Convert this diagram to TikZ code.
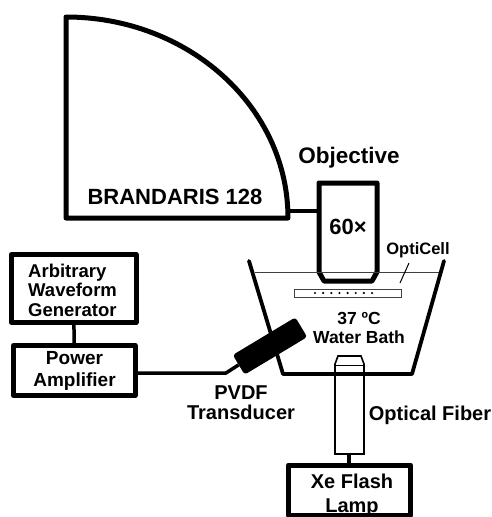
\documentclass[tikz,border=0pt]{standalone}
\usepackage{fontspec}
\setmainfont{Liberation Sans}
\usetikzlibrary{calc,positioning}
\tikzset{
  wire/.style={line width=3.5pt},
  thickline/.style={line width=5pt, line join=round},
  thinline/.style={line width=0.9pt, draw=black!75},
  instrbox/.style={draw, thickline, fill=white, inner sep=0pt},
  lab/.style={font=\bfseries\fontsize{19}{22}\selectfont, inner sep=0pt, align=center},
  biglab/.style={font=\bfseries\fontsize{22}{24}\selectfont, inner sep=0pt, align=center},
  bead/.style={circle, fill=black, inner sep=0pt, minimum size=2.4pt}
}
\begin{document}
\begin{tikzpicture}[x=1pt,y=-1pt]
  \useasboundingbox (0,0) rectangle (492,517);
  % camera
  \draw[thickline] (66,17) -- (66,218) -- (288,218) arc[start angle=0, end angle=-90, x radius=222, y radius=201] -- cycle;
  \node[biglab] (camera) at (175,197) {BRANDARIS 128};
  % objective
  \draw[thickline, fill=white] (319,183) -- (377,183) -- (377,272) -- (372,281) -- (324,281) -- (319,272) -- cycle;
  \coordinate (objleft) at (319,211);
  \coordinate (camright) at (288,211);
  \draw[wire] (camright) -- (objleft);
  \node[biglab, font=\bfseries\fontsize{22.5}{24}\selectfont] (objlabel) at (349,158) {Objective};
  \node[biglab] (objmag) at (348,227) {60×};
  % fiber
  \draw[line width=1.6pt, fill=white] (335,454) -- (335,364) -- (338,356) -- (361,356) -- (364,364) -- (364,454) -- cycle;
  \draw[line width=1pt] (335,365) -- (364,365);
  % bath
  \draw[thinline] (255,272) -- (440,272);
  \draw[line width=3.8pt, line join=round, line cap=round] (249,261) -- (283,374) -- (412,374) -- (444,261);
  \node[draw, thinline, minimum width=107pt, minimum height=8pt, inner sep=0pt] (cell) at (347.5,293) {};
  \foreach \i in {0,...,7}
    \node[bead] (bead\i) at (315+8.15*\i,293) {};
  \node[font=\bfseries\fontsize{16.5}{17}\selectfont, inner sep=0pt] (celllabel) at (418,250) {OptiCell};
  \coordinate (cellend) at (400,283);
  \coordinate (cellstart) at (409,263);
  \draw[line width=1pt] (cellstart) -- (cellend);
  \node[font=\bfseries\fontsize{17.5}{19}\selectfont, inner sep=0pt, align=center] (bathlabel) at (359,327.5) {37 ºC\\Water Bath};
  % signal chain
  \node[instrbox, minimum width=124.5pt, minimum height=68pt] (awg) at (73.75,288.5) {};
  \node[font=\bfseries\fontsize{18.5}{19.5}\selectfont, inner sep=0pt, align=left, anchor=west] (awglabel) at (28,290) {Arbitrary\\Waveform\\Generator};
  \node[instrbox, minimum width=121.5pt, minimum height=50pt] (amp) at (74.25,370.5) {};
  \node[lab] (amplabel) at (74.5,371) {Power\\Amplifier};
  \draw[wire] (awg) -- (amp);
  % transducer
  \node[fill=black, rounded corners=3pt, minimum width=73pt, minimum height=23pt, inner sep=0pt, rotate=31] (probe) at (270,346) {};
  \coordinate (ampout) at (137,373);
  \draw[wire, line join=round] (ampout) -- (226,373) -- (probe.west);
  \node[font=\bfseries\fontsize{20}{20}\selectfont, inner sep=0pt, align=center] (probelabel) at (241,403) {PVDF\\Transducer};
  % lamp
  \node[font=\bfseries\fontsize{20}{20}\selectfont, inner sep=0pt] (fiberlabel) at (430,415) {Optical Fiber};
  \node[instrbox, minimum width=122pt, minimum height=50pt] (lamp) at (349.5,490) {};
  \coordinate (fiberend) at (349,454);
  \draw[wire] (fiberend) -- (fiberend |- lamp.north);
  \node[font=\bfseries\fontsize{20}{24}\selectfont, inner sep=0pt, align=center] (lamplabel) at (352,495) {Xe Flash\\Lamp};
\end{tikzpicture}
\end{document}
